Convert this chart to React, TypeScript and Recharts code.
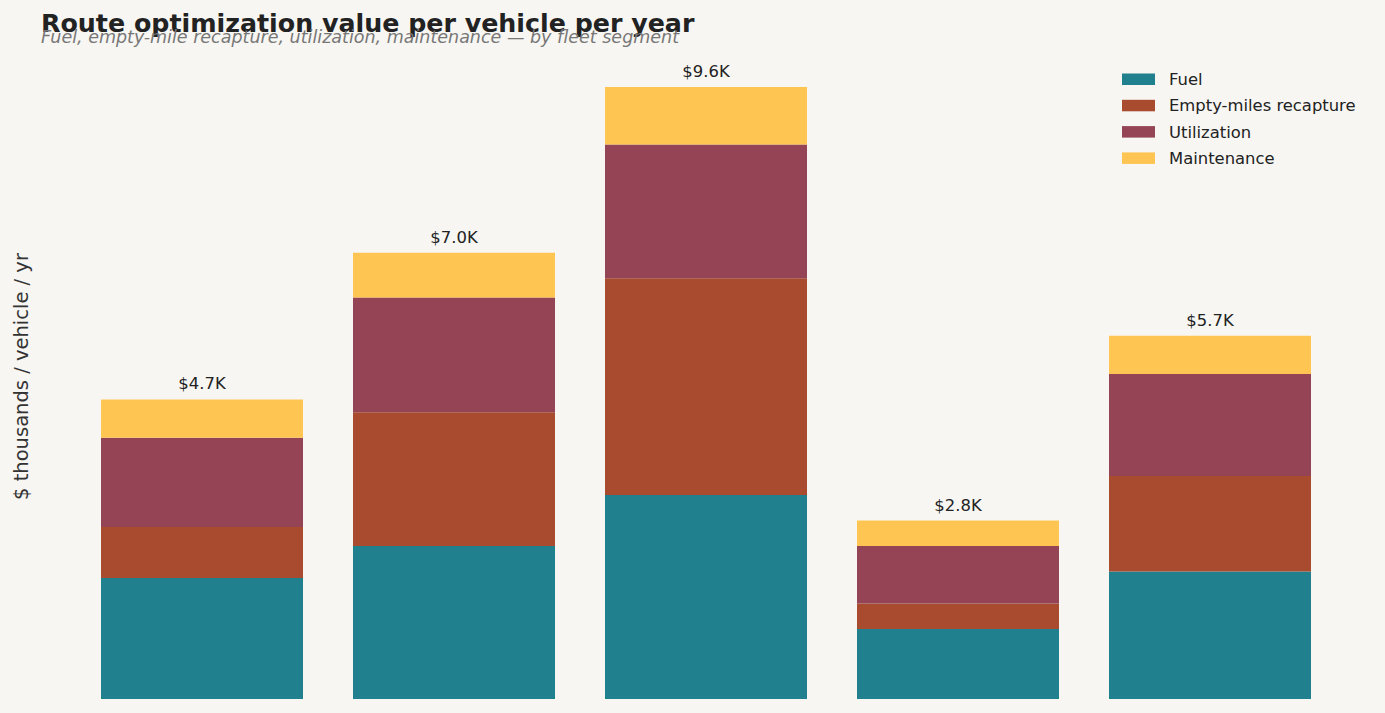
import { BarChart, Bar, XAxis, YAxis, LabelList } from 'recharts';

const segments = ['Long-haul', 'Regional', 'Last-mile', 'Service', 'Mixed'];
const fuel = [1.9, 2.4, 3.2, 1.1, 2.0];
const emptyMiles = [0.8, 2.1, 3.4, 0.4, 1.5];
const utilization = [1.4, 1.8, 2.1, 0.9, 1.6];
const maintenance = [0.6, 0.7, 0.9, 0.4, 0.6];

const series = [
  { key: 'fuel', name: 'Fuel', color: '#21808D' },
  { key: 'empty', name: 'Empty-miles recapture', color: '#A84B2F' },
  { key: 'util', name: 'Utilization', color: '#944454' },
  { key: 'maint', name: 'Maintenance', color: '#FFC553' },
];

const data = segments.map((s, i) => ({
  name: s,
  fuel: fuel[i],
  empty: emptyMiles[i],
  util: utilization[i],
  maint: maintenance[i],
  total: fuel[i] + emptyMiles[i] + utilization[i] + maintenance[i],
}));

const font = '"DejaVu Sans", sans-serif';

function TotalLabel(props: any) {
  const { x, y, width, index } = props;
  return (
    <text x={x + width / 2} y={y - 10} textAnchor="middle" fill="#222" fontSize={16.4} fontFamily={font}>
      ${data[index].total.toFixed(1)}K
    </text>
  );
}

export default function App() {
  return (
    <div style={{ position: 'absolute', left: 0, top: 0, width: 1385, height: 713, background: '#F7F6F2', overflow: 'hidden' }}>
      <BarChart width={1385} height={713} data={data} margin={{ top: 61.5, right: 49, bottom: 14, left: 76 }} barCategoryGap={25}>
        <XAxis dataKey="name" hide />
        <YAxis hide domain={[0, 10]} />
        {series.map((s, i) => (
          <Bar key={s.key} dataKey={s.key} name={s.name} stackId="a" fill={s.color} isAnimationActive={false}>
            {i === series.length - 1 && <LabelList dataKey="total" content={TotalLabel} />}
          </Bar>
        ))}
      </BarChart>
      <svg width={1385} height={713} style={{ position: 'absolute', left: 0, top: 0, pointerEvents: 'none' }} fontFamily={font}>
        <text x={41} y={32} fontSize={25.3} fontWeight={700} fill="#222">
          Route optimization value per vehicle per year
        </text>
        <text x={41} y={43} fontSize={17.5} fontStyle="italic" fill="#777">
          Fuel, empty-mile recapture, utilization, maintenance — by fleet segment
        </text>
        <text x={28} y={376.5} fontSize={19.5} fill="#333" textAnchor="middle" transform="rotate(-90 28 376.5)">
          $ thousands / vehicle / yr
        </text>
        {series.map((s, i) => (
          <g key={s.key}>
            <rect x={1122} y={73.5 + i * 26.3} width={33} height={11.5} fill={s.color} />
            <text x={1169} y={85 + i * 26.3} fontSize={16.4} fill="#222">
              {s.name}
            </text>
          </g>
        ))}
      </svg>
    </div>
  );
}
